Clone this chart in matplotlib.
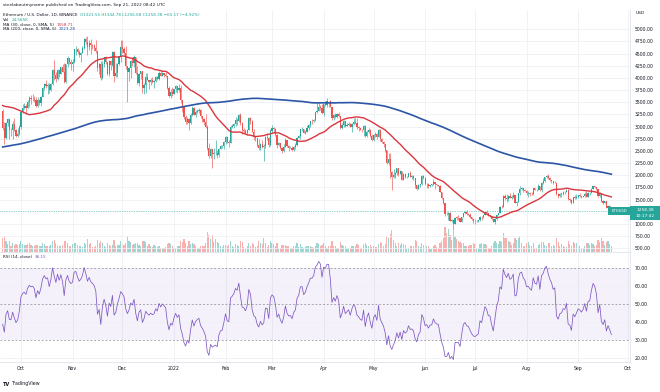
import matplotlib
matplotlib.use('Agg')
import matplotlib.pyplot as plt
from matplotlib.patches import Rectangle
import numpy as np
import pandas as pd

W, H = 660, 392

start_date = '2021-09-20'
first_open = 3329

# daily closes Mar 5 - Aug 1 2021 and Aug 2 - Sep 19 2021,
# only used to warm up the moving averages and the RSI (not drawn)
early_closes = [
    1530, 1660, 1720, 1835, 1870, 1795, 1825, 1770, 1925, 1855, 1790, 1805, 1825, 1780, 1810, 1790, 1780, 1680, 1670, 1585, 1595, 1700, 1715, 1690, 1820, 1845, 1920,
    1970, 2135, 2025, 2090, 2110, 2115, 1965, 2080, 2070, 2135, 2150, 2140, 2300, 2430, 2515, 2425, 2345, 2235, 2165, 2330, 2365, 2400, 2360, 2210, 2315, 2535, 2660, 2745, 2755, 2770,
    2945, 2950, 3430, 3240, 3525, 3490, 3480, 3900, 3925, 3950, 4170, 3820, 3715, 4080, 3645, 3590, 3280, 3380, 2430, 2780, 2430, 2300, 2100, 2640, 2710, 2890, 2745, 2420, 2280, 2390, 2710,
    2630, 2710, 2860, 2690, 2630, 2710, 2590, 2515, 2610, 2470, 2350, 2370, 2510, 2590, 2550, 2360, 2370, 2225, 2170, 2245, 1885, 1875, 1970, 1990, 1815, 1825, 1970, 2080, 2160, 2270,
    2110, 2150, 2225, 2320, 2200, 2325, 2315, 2115, 2145, 2135, 2145, 2030, 1940, 1995, 1915, 1875, 1895, 1895, 1815, 1785, 2000, 2025, 2125, 2190, 2190, 2230, 2300, 2300, 2385, 2460, 2535,
    2555]
warmup_closes = [
    2609, 2507, 2725, 2827, 2890, 3158, 3013, 3163, 3142, 3165, 3046, 3322, 3266, 3310, 3148,
    3012, 3018, 3183, 3287, 3225, 3242, 3322, 3173, 3226, 3101, 3269, 3245, 3226, 3226, 3434,
    3834, 3789, 3940, 3888, 3952, 3926, 3432, 3496, 3427, 3213, 3267, 3410, 3286, 3430, 3612,
    3570, 3399, 3433, 3329]

closes = [
    2977, 2757, 3077, 3154, 2929, 2923, 3064, 2928, 2805, 2850, 3000,  # sep 21
    3307, 3390, 3418, 3382, 3516, 3584, 3561, 3576, 3545, 3415, 3542, 3493, 3603, 3788, 3867, 3829, 3846, 3745, 3877, 4156, 4055, 3972, 4167, 4086, 4219, 4131, 3922, 4285, 4415, 4323, 4288,
    4322, 4588, 4604, 4531, 4473, 4518, 4611, 4808, 4732, 4637, 4723, 4667, 4647, 4623, 4557, 4214, 4285, 3990, 4292, 4435, 4318, 4080, 4344, 4270, 4523, 4035, 4095, 4294, 4445, 4632,
    4587, 4516, 4240, 4116, 4196, 4346, 4307, 4430, 4112, 3900, 4084, 4134, 3784, 3860, 4019, 3960, 3923, 3960, 3925, 3941, 4022, 3982, 4107, 4048, 4095, 4069, 4037, 3795, 3628, 3713, 3677,
    3769, 3829, 3761, 3794, 3550, 3417, 3195, 3091, 3157, 3083, 3239, 3374, 3244, 3307, 3331, 3350, 3212, 3164, 3096, 3001, 2561, 2406, 2539, 2441, 2456, 2465, 2423, 2548, 2597, 2604, 2688,
    2792, 2680, 2664, 2989, 3015, 3057, 3143, 3122, 3240, 3079, 2927, 2916, 2872, 2933, 3183, 3120, 2891, 2783, 2759, 2627, 2571, 2639, 2575, 2598, 2780, 2776, 2618, 2920,
    2973, 2948, 2834, 2618, 2663, 2555, 2495, 2576, 2729, 2608, 2559, 2566, 2515, 2590, 2620, 2772, 2815, 2945, 2950, 2862, 2895, 2972, 3031, 3108, 3107, 3145, 3292, 3330, 3400, 3383, 3281,
    3455, 3445, 3522, 3521, 3410, 3170, 3233, 3191, 3261, 3210, 2981, 3029, 3117, 3018, 3040, 3060, 2991, 3057, 3104, 3077, 2985, 2965, 2935, 2922, 3007, 2808, 2889, 2935, 2817, 2726,
    2826, 2857, 2782, 2940, 2748, 2694, 2636, 2517, 2245, 2342, 2072, 1960, 2012, 2055, 2145, 2023, 2090, 1912, 2018, 1960, 1975, 2043, 1972, 1978, 1942, 1791, 1724, 1791, 1813, 1996, 1942,
    1822, 1832, 1775, 1804, 1806, 1859, 1812, 1793, 1789, 1663, 1530, 1436, 1208, 1207, 1236, 1068, 1086, 994, 1128, 1127, 1124, 1051, 1143, 1225, 1243, 1199, 1193, 1143, 1098, 1067,
    1059, 1067, 1074, 1151, 1134, 1187, 1237, 1217, 1169, 1167, 1096, 1038, 1111, 1191, 1233, 1355, 1340, 1580, 1543, 1521, 1577, 1536, 1551, 1599, 1440, 1449, 1636, 1723, 1737, 1696, 1678,
    1631, 1635, 1619, 1609, 1733, 1699, 1692, 1779, 1691, 1851, 1880, 1956, 1983, 1936, 1900, 1878, 1833, 1847, 1611, 1576, 1620, 1626, 1659, 1653, 1698, 1506, 1490, 1430, 1552, 1524, 1553,
    1586, 1577, 1558, 1577, 1617, 1561, 1630, 1635, 1717, 1779, 1762, 1715, 1573, 1637, 1472, 1435, 1471, 1336, 1376, 1323.55, 1258.38]

highs = [
    3371, 3101, 3095, 3174, 3160, 2970, 3115, 3175, 2950, 2975, 3030,
    3320, 3470, 3485, 3455, 3545, 3625, 3655, 3675, 3630, 3605, 3610, 3560, 3620, 3810, 3900, 3965, 3900, 3890, 3900, 4180, 4375, 4120, 4180, 4185, 4235, 4295, 4300, 4295, 4460, 4420, 4390,
    4380, 4600, 4665, 4625, 4570, 4530, 4650, 4830, 4840, 4868, 4780, 4810, 4705, 4700, 4770, 4560, 4300, 4345, 4340, 4440, 4460, 4320, 4375, 4375, 4550, 4550, 4300, 4300, 4460, 4770,
    4780, 4645, 4650, 4235, 4230, 4360, 4435, 4480, 4430, 4245, 4100, 4140, 4135, 3890, 4095, 4100, 3965, 4000, 4010, 3950, 4050, 4050, 4140, 4150, 4130, 4100, 4130, 4040, 3825, 3770, 3815,
    3770, 3860, 3840, 3880, 3850, 3545, 3425, 3240, 3205, 3175, 3275, 3415, 3395, 3335, 3365, 3390, 3360, 3215, 3175, 3250, 3040, 2655, 2555, 2525, 2560, 2725, 2515, 2555, 2625, 2625, 2705,
    2815, 2800, 2725, 3035, 3060, 3065, 3205, 3185, 3260, 3285, 3095, 2980, 2945, 2945, 3195, 3190, 3130, 2950, 2800, 2765, 2755, 2665, 2720, 2640, 2815, 2865, 2795, 2945,
    3040, 3000, 2970, 2840, 2680, 2670, 2590, 2645, 2770, 2730, 2625, 2600, 2600, 2605, 2660, 2785, 2830, 2950, 3000, 2955, 2940, 3040, 3045, 3120, 3160, 3150, 3295, 3480, 3480, 3445, 3455,
    3470, 3530, 3580, 3530, 3555, 3410, 3265, 3275, 3270, 3305, 3215, 3075, 3135, 3125, 3065, 3090, 3085, 3065, 3170, 3175, 3175, 3005, 2975, 2950, 3030, 3040, 2940, 2980, 2950, 2840,
    2840, 2880, 2870, 2960, 2955, 2760, 2700, 2640, 2525, 2455, 2455, 2095, 2140, 2070, 2160, 2145, 2110, 2095, 2040, 2050, 1990, 2055, 2085, 2005, 2010, 1955, 1810, 1830, 1820, 2015, 2010,
    1970, 1845, 1835, 1810, 1825, 1920, 1865, 1825, 1805, 1795, 1665, 1540, 1440, 1255, 1250, 1240, 1105, 1090, 1135, 1165, 1175, 1130, 1145, 1230, 1265, 1280, 1230, 1235, 1150, 1100,
    1100, 1075, 1085, 1155, 1165, 1195, 1245, 1280, 1235, 1185, 1170, 1100, 1115, 1200, 1235, 1375, 1385, 1590, 1620, 1620, 1605, 1645, 1595, 1650, 1605, 1475, 1645, 1785, 1765, 1745, 1725,
    1700, 1680, 1665, 1665, 1745, 1745, 1725, 1815, 1780, 1860, 1940, 1960, 2015, 2020, 1965, 1910, 1880, 1880, 1850, 1635, 1635, 1630, 1680, 1685, 1710, 1710, 1525, 1515, 1560, 1605, 1610,
    1595, 1645, 1580, 1580, 1650, 1685, 1650, 1660, 1730, 1785, 1790, 1770, 1725, 1650, 1645, 1490, 1475, 1475, 1385, 1395, 1344.78]

lows = [
    2927, 2651, 2745, 3020, 2740, 2800, 2740, 2920, 2785, 2790, 2820,
    2960, 3270, 3355, 3280, 3376, 3405, 3475, 3535, 3500, 3400, 3400, 3435, 3430, 3600, 3750, 3800, 3680, 3700, 3725, 3860, 3950, 3925, 3955, 4025, 4075, 4125, 3905, 3890, 4225, 4285, 4170,
    4150, 4300, 4480, 4485, 4440, 4330, 4510, 4600, 4705, 4470, 4580, 4500, 4590, 4550, 4520, 4135, 4080, 3955, 3970, 4220, 4290, 4070, 4050, 4160, 4250, 3915, 4030, 4015, 4275, 4330,
    4510, 4465, 4180, 3500, 3940, 3995, 4255, 4230, 4080, 3875, 3830, 3970, 3690, 3680, 3700, 3950, 3780, 3850, 3900, 3785, 3910, 3965, 3960, 4035, 4040, 4030, 4025, 3775, 3600, 3585, 3620,
    3670, 3715, 3700, 3715, 3490, 3310, 3150, 3050, 3060, 2930, 3055, 3220, 3235, 3200, 3270, 3280, 3175, 3090, 3040, 2965, 2520, 2360, 2350, 2160, 2345, 2410, 2360, 2370, 2535, 2560, 2540,
    2650, 2655, 2580, 2660, 2965, 2975, 3020, 3025, 3105, 3040, 2855, 2870, 2850, 2835, 2925, 3055, 2880, 2730, 2705, 2580, 2510, 2510, 2570, 2300, 2570, 2730, 2585, 2600,
    2860, 2860, 2810, 2560, 2600, 2550, 2450, 2485, 2575, 2585, 2500, 2555, 2505, 2490, 2550, 2600, 2760, 2750, 2905, 2860, 2845, 2880, 2925, 3000, 3060, 3100, 3120, 3280, 3330, 3340, 3260,
    3210, 3420, 3405, 3405, 3400, 3140, 3130, 3180, 3170, 3190, 2950, 2950, 2990, 2990, 3020, 3015, 2985, 2885, 3030, 3060, 2955, 2920, 2925, 2900, 2800, 2790, 2790, 2860, 2790, 2715,
    2710, 2780, 2755, 2780, 2710, 2660, 2580, 2475, 2230, 2210, 1950, 1700, 1940, 1955, 2015, 1985, 2020, 1910, 1905, 1940, 1940, 1965, 1960, 1920, 1900, 1735, 1705, 1720, 1770, 1810, 1930,
    1800, 1745, 1745, 1765, 1785, 1795, 1720, 1785, 1775, 1660, 1510, 1420, 1170, 1175, 1075, 1065, 1050, 880, 990, 1080, 1085, 1040, 1040, 1135, 1205, 1195, 1180, 1130, 1085, 1015,
    1000, 1035, 1045, 1065, 1085, 1120, 1185, 1205, 1160, 1150, 1090, 1035, 1005, 1085, 1175, 1225, 1335, 1340, 1485, 1460, 1470, 1530, 1505, 1530, 1430, 1360, 1445, 1605, 1690, 1665, 1670,
    1590, 1565, 1585, 1600, 1605, 1690, 1675, 1690, 1675, 1660, 1830, 1865, 1950, 1915, 1880, 1850, 1825, 1835, 1605, 1530, 1555, 1555, 1590, 1615, 1650, 1500, 1450, 1420, 1425, 1510, 1505,
    1530, 1555, 1540, 1545, 1565, 1560, 1545, 1605, 1630, 1710, 1735, 1705, 1555, 1565, 1455, 1405, 1430, 1330, 1280, 1310, 1256.68]

# volume, thousands
volumes = [
    38, 45, 30, 22, 32, 18, 24, 20, 22, 20, 22,
    30, 22, 20, 20, 22, 26, 20, 18, 16, 20, 20, 18, 18, 24, 22, 18, 16, 18, 20, 30, 34, 24, 18, 16, 18, 20, 30, 30, 26, 18, 18,
    22, 26, 24, 20, 18, 16, 14, 24, 22, 36, 22, 24, 14, 14, 18, 34, 24, 32, 26, 18, 14, 24, 20, 18, 20, 34, 18, 20, 20, 30,
    24, 20, 26, 44, 30, 28, 20, 22, 24, 26, 20, 16, 30, 30, 28, 18, 22, 16, 14, 20, 18, 14, 18, 12, 10, 10, 14, 22, 24, 22, 18,
    12, 12, 16, 18, 30, 28, 36, 24, 18, 30, 22, 24, 22, 18, 12, 12, 18, 18, 18, 26, 56, 48, 36, 48, 28, 36, 28, 24, 16, 14, 20,
    20, 18, 20, 30, 16, 14, 22, 20, 18, 30, 28, 14, 12, 18, 24, 18, 24, 22, 14, 18, 30, 26, 22, 40, 24, 14, 20, 30,
    26, 22, 18, 26, 12, 12, 20, 20, 20, 18, 18, 10, 12, 18, 18, 24, 14, 22, 14, 12, 14, 18, 16, 18, 14, 10, 18, 26, 22, 16, 20,
    24, 16, 12, 18, 18, 30, 18, 16, 10, 12, 28, 20, 16, 16, 10, 8, 10, 18, 16, 16, 22, 20, 10, 10, 22, 24, 20, 18, 20, 14,
    18, 14, 14, 22, 28, 24, 16, 22, 44, 40, 50, 62, 34, 24, 18, 24, 20, 24, 22, 20, 12, 12, 18, 18, 18, 34, 32, 18, 14, 26, 20,
    22, 18, 16, 8, 8, 18, 20, 14, 12, 26, 30, 40, 70, 54, 64, 48, 34, 58, 44, 36, 30, 28, 26, 26, 18, 16, 18, 20, 20, 24,
    22, 12, 12, 22, 24, 22, 22, 20, 12, 12, 18, 24, 30, 26, 22, 30, 28, 52, 40, 38, 32, 28, 20, 24, 38, 34, 40, 44, 26, 18, 18,
    24, 28, 20, 18, 24, 12, 12, 20, 22, 28, 28, 20, 18, 24, 24, 18, 20, 16, 38, 28, 16, 22, 16, 14, 14, 30, 22, 16, 28, 24, 24,
    20, 18, 10, 10, 16, 26, 26, 20, 24, 22, 18, 20, 34, 28, 40, 30, 20, 28, 30, 22, 18]

fast_len = 30
slow_len = 200
rsi_len = 14

month_labels = ['Oct', 'Nov', 'Dec', '2022', 'Feb', 'Mar', 'Apr', 'May', 'Jun', 'Jul', 'Aug', 'Sep', 'Oct']
price_ticks = [500, 750, 1000, 1500, 1750, 2000, 2250, 2500, 2750, 3000, 3250, 3500, 3750,
               4000, 4250, 4500, 4750, 5000]
rsi_ticks = [20, 30, 40, 50, 60, 70]

UP = '#26a69a'
DOWN = '#ef5350'
MA_FAST_C = '#d9363e'
MA_SLOW_C = '#2c55a6'
RSI_C = '#7e57c2'
GRID = '#eef0f5'
TXT = '#131722'
EDGE = '#e0e3eb'
FS = 3.3


def fx(x):
    return x / W


def fy(y):
    return 1 - y / H


def text_row(fig, renderer, x, y, parts, size):
	for s, c in parts:
		t = fig.text(fx(x), fy(y), s, color=c, fontsize=size, va='center', ha='left')
		bb = t.get_window_extent(renderer)
		x = bb.x1 + 2.5


def main():
	c = np.array(closes, dtype=float)
	hi = np.array(highs, dtype=float)
	lo = np.array(lows, dtype=float)
	vol = np.array(volumes, dtype=float)
	assert len(c) == len(hi) == len(lo) == len(vol)
	o = np.concatenate([[first_open], c[:-1]])
	hi = np.maximum(hi, np.maximum(o, c))
	lo = np.minimum(lo, np.minimum(o, c))
	n = len(c)
	x = np.arange(n)
	up = c >= o
	cols = np.where(up, UP, DOWN)

	warm = list(early_closes) + list(warmup_closes)
	full = pd.Series(warm + list(closes), dtype=float)
	k = len(warm)
	ma_fast = full.rolling(fast_len).mean().to_numpy()[k:]
	ma_slow = full.rolling(slow_len).mean().to_numpy()[k:]
	delta = full.diff()
	gain = delta.clip(lower=0)
	loss = -delta.clip(upper=0)
	ag = gain.ewm(alpha=1 / rsi_len, adjust=False).mean()
	al = loss.ewm(alpha=1 / rsi_len, adjust=False).mean()
	rsi = (100 - 100 / (1 + ag / al)).to_numpy()[k:]

	start = pd.Timestamp(start_date)
	months = pd.date_range('2021-10-01', '2022-10-01', freq='MS')
	mpos = [(m - start).days for m in months]

	fig = plt.figure(figsize=(W / 100, H / 100), dpi=100)
	rect_main = [0, fy(252), fx(630), fy(10) - fy(252)]
	rect_rsi = [0, fy(362), fx(630), fy(253) - fy(362)]

	axv = fig.add_axes(rect_main)
	ax = fig.add_axes(rect_main, sharex=axv)
	axr = fig.add_axes(rect_rsi, sharex=axv)
	ax.patch.set_visible(False)

	axv.set_xlim(-1.6, 377.2)

	# volume
	axv.bar(x, vol, width=0.72, color=cols, alpha=0.45, linewidth=0)
	axv.set_ylim(0, 680)
	axv.axis('off')

	# grid
	for m in mpos:
		ax.axvline(m, color=GRID, lw=0.6, zorder=0)
		axr.axvline(m, color=GRID, lw=0.6, zorder=0)
	for p in price_ticks:
		ax.axhline(p, color=GRID, lw=0.6, zorder=0)

	# candles
	ax.vlines(x, lo, hi, colors=cols, lw=0.45, zorder=2)
	body = np.maximum(np.abs(c - o), 8)
	ax.bar(x, body, bottom=np.minimum(o, c), width=0.72, color=cols, linewidth=0, zorder=3)

	ax.plot(x, ma_fast, color=MA_FAST_C, lw=1.0, zorder=4)
	ax.plot(x, ma_slow, color=MA_SLOW_C, lw=1.2, zorder=4)
	ax.axhline(c[-1], color=UP, lw=0.5, ls=(0, (1, 1.5)), zorder=1)

	ax.set_ylim(425, 5396)
	ax.yaxis.tick_right()
	ax.set_yticks(price_ticks)
	ax.set_yticklabels(['%.2f' % p for p in price_ticks])
	ax.tick_params(axis='y', length=0, pad=3.5, labelsize=FS, labelcolor=TXT)
	ax.set_xticks(mpos)
	ax.tick_params(axis='x', length=0, labelbottom=False)
	for s in ['top', 'left']:
		ax.spines[s].set_visible(False)
	for s in ['right', 'bottom']:
		ax.spines[s].set_color(EDGE)
		ax.spines[s].set_linewidth(0.6)

	# RSI pane
	axr.axhspan(30, 70, color=RSI_C, alpha=0.08, lw=0, zorder=0)
	for lvl in rsi_ticks:
		if lvl in (30, 50, 70):
			axr.axhline(lvl, color='#787b86', lw=0.45, ls=(0, (3, 3)), zorder=1)
		else:
			axr.axhline(lvl, color=GRID, lw=0.6, zorder=0)
	axr.plot(x, rsi, color=RSI_C, lw=0.55, zorder=3)
	axr.set_ylim(18.0, 78.1)
	axr.yaxis.tick_right()
	axr.set_yticks(rsi_ticks)
	axr.set_yticklabels(['%.2f' % r for r in rsi_ticks])
	axr.tick_params(axis='y', length=0, pad=3.5, labelsize=FS, labelcolor=TXT)
	axr.set_xticks(mpos)
	axr.set_xticklabels(month_labels)
	axr.tick_params(axis='x', length=0, pad=3.2, labelsize=FS, labelcolor=TXT)
	for s in ['top', 'left']:
		axr.spines[s].set_visible(False)
	for s in ['right', 'bottom']:
		axr.spines[s].set_color(EDGE)
		axr.spines[s].set_linewidth(0.6)

	# texts
	renderer = fig.canvas.get_renderer()
	fig.text(fx(3), fy(5), 'steelaboutmyname published on TradingView.com, Sep 21, 2022 08:42 UTC',
		fontsize=3.1, color=TXT, va='center')
	chg = c[-1] - c[-2]
	ohlc = 'O%.2f H%.2f L%.2f C%.2f %.2f (%.2f%%)' % (o[-1], hi[-1], lo[-1], c[-1], chg, 100 * chg / c[-2])
	ohlc = ohlc.replace('-', '\u2212')
	text_row(fig, renderer, 3, 15, [('Ethereum / U.S. Dollar, 1D, BINANCE', TXT), (ohlc, UP)], 2.95)
	text_row(fig, renderer, 3, 20, [('Vol', TXT), ('24.565K', UP)], 2.95)
	text_row(fig, renderer, 3, 24.5, [('MA (30, close, 0, SMA, 5)', TXT), ('1558.71', MA_FAST_C)], 2.95)
	text_row(fig, renderer, 3, 29, [('MA (200, close, 0, SMA, 6)', TXT), ('2023.28', MA_SLOW_C)], 2.95)
	text_row(fig, renderer, 3, 256.5, [('RSI (14, close)', TXT), ('36.15', RSI_C)], 2.95)
	fig.text(fx(636), fy(13), 'USD', fontsize=3.2, color=TXT, va='center')
	fig.text(fx(3), fy(384), 'TV', fontsize=3.6, color=TXT, va='center', fontweight='bold')
	fig.text(fx(12), fy(384), 'TradingView', fontsize=3.4, color=TXT, va='center')

	# last price tags
	py = H - ax.transData.transform((0, c[-1]))[1]
	fig.add_artist(Rectangle((fx(608), fy(py + 4)), fx(22), 8 / H, transform=fig.transFigure,
		color=UP, lw=0))
	fig.text(fx(619), fy(py), 'ETHUSD', fontsize=2.7, color='white', ha='center', va='center')
	fig.add_artist(Rectangle((fx(630), fy(py + 9)), fx(30), 14 / H, transform=fig.transFigure,
		color=UP, lw=0))
	fig.text(fx(645), fy(py - 1), '%.2f' % c[-1], fontsize=3.1, color='white', ha='center', va='center')
	fig.text(fx(645), fy(py + 5), '10:17:42', fontsize=3.1, color='white', ha='center', va='center')

	fig.savefig('out.png', dpi=100, facecolor='white')


if __name__ == '__main__':
	main()
